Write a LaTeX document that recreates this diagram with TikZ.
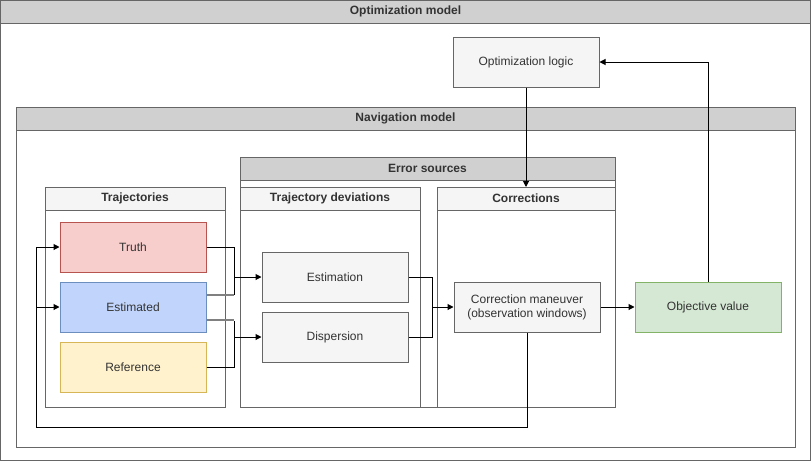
\documentclass[tikz,border=0pt]{standalone}
\usepackage{fontspec}
\setmainfont{Liberation Sans}
\usetikzlibrary{arrows.meta}
\definecolor{hdrdark}{HTML}{D0D0D0}
\definecolor{hdrlight}{HTML}{F5F5F5}
\definecolor{boxstroke}{HTML}{666666}
\definecolor{txt}{HTML}{333333}
\definecolor{truthfill}{HTML}{F8CECC}
\definecolor{truthdraw}{HTML}{B85450}
\definecolor{estfill}{HTML}{C1D5FC}
\definecolor{estdraw}{HTML}{6C8EBF}
\definecolor{reffill}{HTML}{FFF2CC}
\definecolor{refdraw}{HTML}{D6B656}
\definecolor{objfill}{HTML}{D5E8D4}
\definecolor{objdraw}{HTML}{82B366}
\begin{document}
\begin{tikzpicture}[x=1pt,y=-1pt,
  font=\fontsize{12}{14}\selectfont,
  lane/.style={draw=boxstroke,line width=1pt,fill=white},
  hdrbox/.style={draw=boxstroke,line width=1pt},
  hdrtext/.style={font=\fontsize{12}{14}\selectfont\bfseries,text=txt},
  gbox/.style={draw=boxstroke,fill=hdrlight,line width=1pt,minimum width=146pt,minimum height=50pt,inner sep=0pt,text=txt,align=center},
  conn/.style={draw=black,line width=1pt,-{Triangle[length=6pt,width=6pt]}},
  connn/.style={draw=black,line width=1pt},
  gconn/.style={draw=gray,line width=1.5pt}
]
\useasboundingbox (0,0) rectangle (811,461);
% Outer lane
\draw[lane] (0.5,0.5) rectangle (810.5,460.5);
\draw[hdrbox,fill=hdrdark] (0.5,0.5) rectangle (810.5,23) node[midway,hdrtext] (optT) {Optimization model};
% Navigation model
\draw[lane] (16,107) rectangle (795,447);
\draw[hdrbox,fill=hdrdark] (16,107) rectangle (795,130) node[midway,hdrtext] (navT) {Navigation model};
% Error sources
\draw[lane] (240,157) rectangle (615,407);
\draw[hdrbox,fill=hdrdark] (240,157) rectangle (615,180) node[midway,hdrtext] (errT) {Error sources};
% Trajectory deviations
\draw[lane] (240,187) rectangle (420,407);
\draw[hdrbox,fill=hdrlight] (240,187) rectangle (420,210) node[midway,hdrtext] (devT) {Trajectory deviations};
% Corrections
\draw[lane] (437,187) rectangle (615,407);
\draw[hdrbox,fill=hdrlight] (437,187) rectangle (615,210) node[midway,hdrtext] (corT) {Corrections};
\coordinate (corTop) at (526,187);
% Trajectories
\draw[lane] (45,187) rectangle (225,407);
\draw[hdrbox,fill=hdrlight] (45,187) rectangle (225,210) node[midway,hdrtext] (trT) {Trajectories};

% Nodes
\node[gbox] (opt) at (526,62) {Optimization logic};
\node[gbox,fill=truthfill,draw=truthdraw] (truth) at (133,247) {Truth};
\node[gbox,fill=estfill,draw=estdraw] (est) at (133,307) {Estimated};
\node[gbox,fill=reffill,draw=refdraw] (ref) at (133,367) {Reference};
\node[gbox] (estim) at (335,277) {Estimation};
\node[gbox] (disp) at (335,337) {Dispersion};
\node[gbox] (corr) at (527,307) {Correction maneuver\\(observation windows)};
\node[gbox,fill=objfill,draw=objdraw] (obj) at (708,307) {Objective value};

% Connectors
\draw[connn] (truth.east) -| (234,277);
\draw[gconn] ([yshift=12pt]est.east) -- (234,295);
\draw[connn] (234,294.5) -- (234,277);
\draw[conn] (234,277) -- (estim.west);
\draw[gconn] ([yshift=-13pt]est.east) -- (234,320);
\draw[connn] (ref.east) -| (234,320.5);
\draw[conn] (234,337) -- (disp.west);

\draw[connn] (estim.east) -| (432,307);
\draw[connn] (disp.east) -| (432,307);
\draw[conn] (432,307) -- (corr.west);

\draw[conn] (corr.east) -- (obj.west);
\draw[conn] (obj.north) |- (opt.east);
\draw[conn] (opt.south) -- (corTop);

\draw[connn] (corr.south) |- (36,427) -- (36,307);
\draw[conn] (36,247) -- (truth.west);
\draw[connn] (36,307) -- (36,247);
\draw[conn] (36,307) -- (est.west);
\end{tikzpicture}
\end{document}
